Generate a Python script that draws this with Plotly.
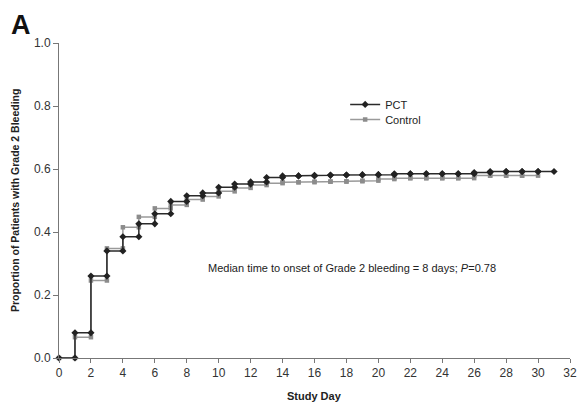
import plotly.graph_objects as go

# Step values: value held during [day, day+1)
pct_days = list(range(0, 31))
pct_vals = [0.0, 0.080, 0.260, 0.340, 0.385, 0.426, 0.458, 0.497, 0.515, 0.524,
            0.542, 0.552, 0.559, 0.573, 0.578, 0.578, 0.580, 0.581, 0.581, 0.582,
            0.582, 0.585, 0.585, 0.585, 0.585, 0.585, 0.589, 0.592, 0.592, 0.592,
            0.592]
ctl_days = list(range(0, 30))
ctl_vals = [0.0, 0.066, 0.246, 0.348, 0.415, 0.448, 0.475, 0.486, 0.503, 0.513,
            0.529, 0.540, 0.549, 0.555, 0.558, 0.558, 0.560, 0.560, 0.561, 0.563,
            0.568, 0.571, 0.571, 0.571, 0.571, 0.571, 0.579, 0.579, 0.579, 0.579]

x_ticks = list(range(0, 33, 2))
y_ticks = [0.0, 0.2, 0.4, 0.6, 0.8, 1.0]


def step_points(days, vals):
    xs, ys = [], []
    for d, v in zip(days, vals):
        xs += [d, d + 1]
        ys += [v, v]
    return xs, ys


FONT = "Liberation Sans, Arial, sans-serif"
px_, py_ = step_points(pct_days, pct_vals)
cx_, cy_ = step_points(ctl_days, ctl_vals)

fig = go.Figure()
fig.add_trace(go.Scatter(x=cx_, y=cy_, mode="lines+markers", name="Control",
                         line=dict(color="#9a9a9a", width=1.5),
                         marker=dict(symbol="square", size=4.5, color="#8c8c8c"),
                         cliponaxis=False, legend="legend2"))
fig.add_trace(go.Scatter(x=px_, y=py_, mode="lines+markers", name="PCT",
                         line=dict(color="#2a2a2a", width=1.5),
                         marker=dict(symbol="diamond", size=5.5, color="#222222"),
                         cliponaxis=False, legend="legend"))

leg_common = dict(xanchor="left", yanchor="middle", bgcolor="rgba(0,0,0,0)",
                  font=dict(family=FONT, size=11, color="#222222"),
                  itemwidth=30, tracegroupgap=0)

fig.update_layout(
    width=577, height=396,
    margin=dict(l=51, r=8, t=35, b=46),
    paper_bgcolor="white", plot_bgcolor="white",
    font=dict(family=FONT, size=12, color="#333333"),
    showlegend=True,
    legend=dict(x=0.56, y=0.805, **leg_common),
    legend2=dict(x=0.56, y=0.757, **leg_common),
    xaxis=dict(range=[0, 32], tickvals=x_ticks, showgrid=False, zeroline=False,
               showline=True, linecolor="#777777", linewidth=1,
               ticks="outside", ticklen=4, tickcolor="#777777",
               tickfont=dict(family=FONT, size=12, color="#333333")),
    yaxis=dict(range=[0, 1.0], tickvals=y_ticks, tickformat=".1f",
               showgrid=False, zeroline=False,
               showline=True, linecolor="#777777", linewidth=1,
               ticks="outside", ticklen=5, tickcolor="#777777",
               tickfont=dict(family=FONT, size=12, color="#333333")),
    annotations=[
        dict(text="<b>A</b>", xref="paper", yref="paper", x=-0.095, y=1.109,
             xanchor="left", yanchor="top", showarrow=False, borderpad=0,
             font=dict(family=FONT, size=27, color="#111111")),
        dict(text="<b>Study Day</b>", xref="paper", yref="paper", x=0.5, y=-0.095,
             xanchor="center", yanchor="top", showarrow=False,
             font=dict(family=FONT, size=11, color="#222222")),
        dict(text="<b>Proportion of Patients with Grade 2 Bleeding</b>", xref="paper",
             yref="paper", x=-0.087, y=0.5, xanchor="center", yanchor="middle",
             textangle=-90, showarrow=False,
             font=dict(family=FONT, size=10.5, color="#222222")),
        dict(text="Median time to onset of Grade 2 bleeding = 8 days; <i>P</i>=0.78",
             xref="paper", yref="paper", x=0.288, y=0.285, xanchor="left",
             yanchor="middle", showarrow=False,
             font=dict(family=FONT, size=11, color="#222222")),
    ],
)

fig.write_html("out.html")
